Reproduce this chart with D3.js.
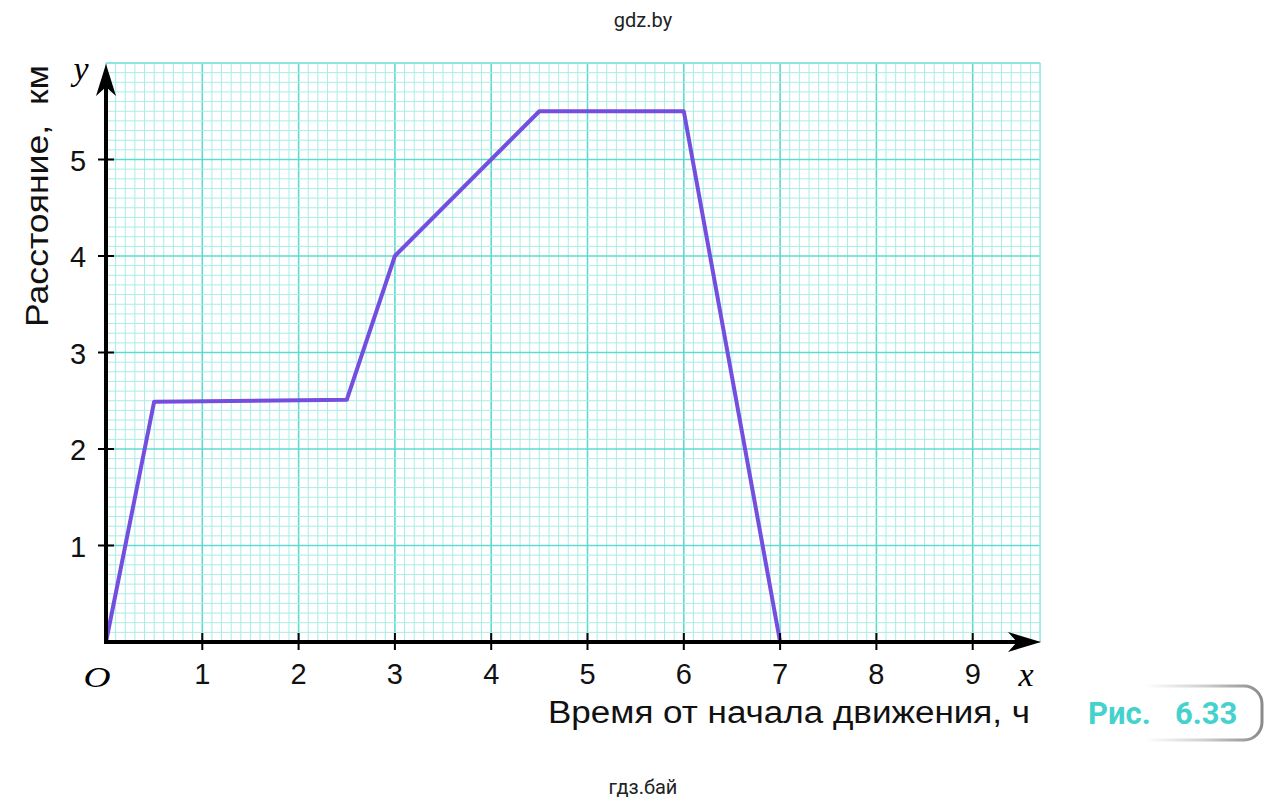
<!DOCTYPE html>
<html><head><meta charset="utf-8">
<script src="https://cdn.jsdelivr.net/npm/d3@7"></script>
<style>html,body{margin:0;padding:0;background:#fff;}svg{display:block;}</style>
</head><body>
<svg id="c" width="1288" height="807"></svg>
<script>
// ---- data ----
const times = [0, 0.5, 2.5, 3, 4.5, 6, 7];
const distances = [0, 2.49, 2.51, 4, 5.5, 5.5, 0];
const xTicks = [1, 2, 3, 4, 5, 6, 7, 8, 9];
const yTicks = [1, 2, 3, 4, 5];
const xTitle = "Время от начала движения, ч";
const yTitle = "Расстояние,  км";
const figLabel = ["Рис.", "6.33"];
const watermarkTop = "gdz.by";
const watermarkBottom = "гдз.бай";

const svg = d3.select("#c");
const x = d3.scaleLinear().domain([0, 9.7]).range([106, 106 + 9.7 * 96.3]);
const y = d3.scaleLinear().domain([0, 6]).range([642, 642 - 6 * 96.5]);
const font = "'Liberation Sans', Arial, sans-serif";

// grid
const g = svg.append("g");
const minorX = d3.range(0, 98).map(i => i / 10);
const minorY = d3.range(0, 61).map(i => i / 10);
const isMajor = d => Math.abs(d - Math.round(d)) < 1e-9;
g.selectAll(".mx").data(minorX).join("line")
  .attr("x1", d => x(d)).attr("x2", d => x(d)).attr("y1", y(0)).attr("y2", y(6))
  .attr("stroke", d => isMajor(d) ? "#5fdad1" : "#a8ede6")
  .attr("stroke-width", d => isMajor(d) ? 1.6 : 1);
g.selectAll(".my").data(minorY).join("line")
  .attr("y1", d => y(d)).attr("y2", d => y(d)).attr("x1", x(0)).attr("x2", x(9.7))
  .attr("stroke", d => isMajor(d) ? "#5fdad1" : "#a8ede6")
  .attr("stroke-width", d => isMajor(d) ? 1.6 : 1);
g.append("line").attr("x1", x(9.7)).attr("x2", x(9.7)).attr("y1", y(0)).attr("y2", y(6))
  .attr("stroke", "#9ae8e1").attr("stroke-width", 1.5);
g.append("line").attr("x1", x(0)).attr("x2", x(9.7)).attr("y1", y(6)).attr("y2", y(6))
  .attr("stroke", "#8fe6de").attr("stroke-width", 2);

// data line
const pts = times.map((t, i) => [t, distances[i]]);
svg.append("path").datum(pts)
  .attr("d", d3.line().x(d => x(d[0])).y(d => y(d[1])))
  .attr("fill", "none").attr("stroke", "#744fdf").attr("stroke-width", 4)
  .attr("stroke-linejoin", "round");

// axes
const ax = svg.append("g");
ax.append("line").attr("x1", x(0) - 2).attr("x2", 1020).attr("y1", y(0)).attr("y2", y(0))
  .attr("stroke", "#000").attr("stroke-width", 4);
ax.append("line").attr("x1", x(0)).attr("x2", x(0)).attr("y1", y(0) + 2).attr("y2", 85)
  .attr("stroke", "#000").attr("stroke-width", 4);
const xt = 1041, yt = y(0);
ax.append("path").attr("d", `M${xt},${yt} L${xt - 33},${yt - 10} L${xt - 24},${yt} L${xt - 33},${yt + 10} Z`).attr("fill", "#000");
const ytx = x(0), yty = 64;
ax.append("path").attr("d", `M${ytx},${yty} L${ytx - 10},${yty + 32} L${ytx},${yty + 23} L${ytx + 10},${yty + 32} Z`).attr("fill", "#000");

// ticks
ax.selectAll(".xt").data(xTicks).join("line")
  .attr("x1", d => x(d)).attr("x2", d => x(d)).attr("y1", y(0) - 9).attr("y2", y(0) + 8)
  .attr("stroke", "#000").attr("stroke-width", 2);
ax.selectAll(".yt").data(yTicks).join("line")
  .attr("y1", d => y(d)).attr("y2", d => y(d)).attr("x1", x(0) - 8).attr("x2", x(0) + 8)
  .attr("stroke", "#000").attr("stroke-width", 2);

// tick labels
ax.selectAll(".xl").data(xTicks).join("text")
  .attr("x", d => x(d)).attr("y", 684).attr("text-anchor", "middle")
  .attr("font-family", font).attr("font-size", 29).attr("fill", "#111").text(d => d);
ax.selectAll(".yl").data(yTicks).join("text")
  .attr("x", 78).attr("y", d => y(d) + 11).attr("text-anchor", "middle")
  .attr("font-family", font).attr("font-size", 29).attr("fill", "#111").text(d => d);

// O, x, y letters
svg.append("text").attr("x", 97).attr("y", 687).attr("text-anchor", "middle")
  .attr("font-family", "'Liberation Serif', serif").attr("font-style", "italic").attr("font-size", 30)
  .attr("transform", "translate(97,687) scale(1.25,1) translate(-97,-687)").text("O");
svg.append("text").attr("x", 81).attr("y", 80).attr("text-anchor", "middle")
  .attr("font-family", "'Liberation Serif', serif").attr("font-style", "italic").attr("font-size", 34).text("y");
svg.append("text").attr("x", 1026).attr("y", 686).attr("text-anchor", "middle")
  .attr("font-family", "'Liberation Serif', serif").attr("font-style", "italic").attr("font-size", 34).text("x");

// titles
svg.append("text").attr("x", 548).attr("y", 723)
  .attr("font-family", font).attr("font-size", 31).attr("fill", "#111")
  .attr("textLength", 482).attr("lengthAdjust", "spacingAndGlyphs").text(xTitle);
svg.append("text").attr("transform", "translate(48,327) rotate(-90)")
  .attr("font-family", font).attr("font-size", 31).attr("fill", "#111")
  .attr("textLength", 262).attr("lengthAdjust", "spacingAndGlyphs")
  .attr("xml:space", "preserve").style("white-space", "pre").text(yTitle);

// badge
const defs = svg.append("defs");
const lg = defs.append("linearGradient").attr("id", "bg").attr("x1", "0").attr("x2", "1").attr("y1", "0").attr("y2", "0");
lg.append("stop").attr("offset", "0").attr("stop-color", "#ffffff");
lg.append("stop").attr("offset", "0.5").attr("stop-color", "#d0d0d0");
lg.append("stop").attr("offset", "1").attr("stop-color", "#8a8a8a");
svg.append("path")
  .attr("d", "M1145,686 L1244,686 A18,18 0 0 1 1262,704 L1262,722 A18,18 0 0 1 1244,740 L1145,740")
  .attr("fill", "none").attr("stroke", "url(#bg)").attr("stroke-width", 3);
const bf = "'Liberation Sans Narrow', 'Roboto', sans-serif";
svg.append("text").attr("x", 1088).attr("y", 724).attr("font-family", bf).attr("font-weight", "bold")
  .attr("font-size", 31).attr("fill", "#45d2cd").text(figLabel[0]);
svg.append("text").attr("x", 1175).attr("y", 724).attr("font-family", bf).attr("font-weight", "bold")
  .attr("font-size", 31).attr("fill", "#45d2cd").text(figLabel[1]);

// watermarks
svg.append("text").attr("x", 643).attr("y", 27).attr("text-anchor", "middle")
  .attr("font-family", "Roboto, sans-serif").attr("font-size", 20).attr("fill", "#222").text(watermarkTop);
svg.append("text").attr("x", 643).attr("y", 794).attr("text-anchor", "middle")
  .attr("font-family", "Roboto, sans-serif").attr("font-size", 20).attr("fill", "#222").text(watermarkBottom);
</script>
</body></html>
